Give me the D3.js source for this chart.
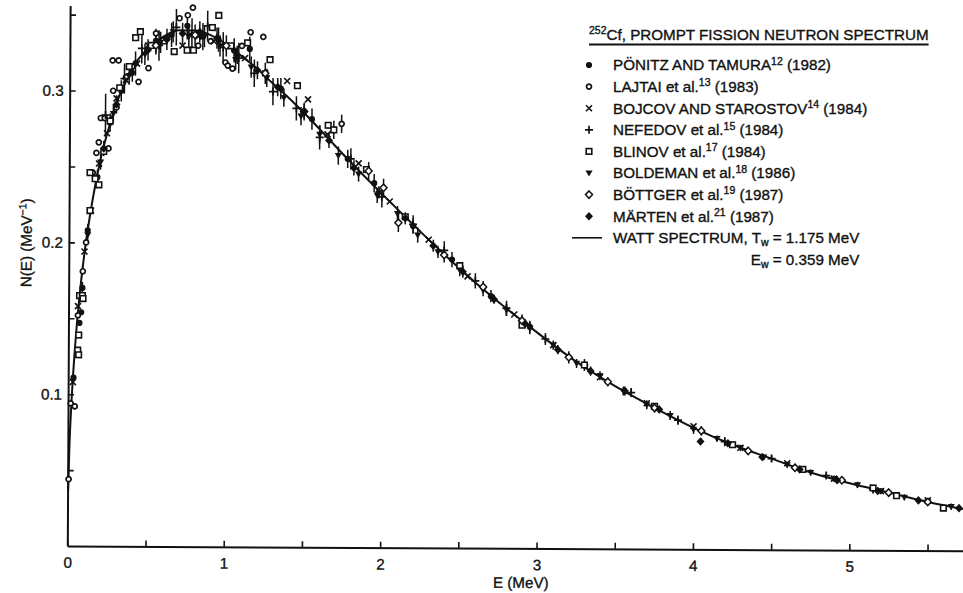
<!DOCTYPE html>
<html><head><meta charset="utf-8">
<script src="https://cdn.jsdelivr.net/npm/d3@7"></script>
<style>
body{margin:0;background:#fff}
svg{display:block}
text{font-family:"Liberation Sans",Arial,Helvetica,sans-serif;fill:#111;stroke:#111;stroke-width:0.35px}
</style>
</head><body>
<svg id="c" width="963" height="593"></svg>
<script>
// ---------- DATA ----------
const xTicks = [0,0.5,1,1.5,2,2.5,3,3.5,4,4.5,5,5.5];
const xTickLabels = ["0","","1","","2","","3","","4","","5",""];
const yTicks = [0.05,0.1,0.15,0.2,0.25,0.3,0.35];
const yTickLabels = ["","0.1","","0.2","","0.3",""];

// Watt spectrum curve (E in MeV, N in 1/MeV)
const wattE = [0.003,0.01,0.02,0.035,0.05,0.075,0.1,0.15,0.2,0.25,0.3,0.35,0.4,0.5,0.6,0.7,0.8,0.9,1.0,1.1,1.2,1.25,1.4,1.5,1.75,2.0,2.25,2.5,2.75,3.0,3.25,3.5,3.75,4.0,4.25,4.5,4.75,5.0,5.25,5.5,5.75];
const wattN = [0.036,0.065,0.091,0.119,0.141,0.170,0.193,0.228,0.255,0.275,0.292,0.304,0.315,0.328,0.336,0.340,0.340,0.337,0.331,0.323,0.315,0.310,0.296,0.286,0.259,0.233,0.208,0.184,0.162,0.142,0.123,0.107,0.093,0.080,0.069,0.060,0.051,0.044,0.038,0.032,0.027];

// series points: [E, N, error half-width]
const ponitz = [[0.034,0.111,0],[0.07,0.147,0],[0.081,0.154,0],[0.088,0.170,0.004],[0.12,0.208,0.004],[0.18,0.243,0.005],[0.26,0.279,0.006],[0.33,0.300,0.007],[0.42,0.318,0.008],[0.55,0.333,0.008],[0.65,0.337,0.008],[0.75,0.343,0.009],[0.85,0.336,0.009],[0.95,0.334,0.008],[1.05,0.327,0.008],[1.15,0.328,0.008],[1.35,0.302,0.007],[1.55,0.282,0.007],[1.78,0.256,0.006],[1.95,0.240,0.006],[2.2,0.212,0.005],[2.45,0.190,0.005],[2.7,0.166,0.004],[2.95,0.146,0.004]];
const lajtai = [[0.006,0.044,0],[0.017,0.094,0],[0.043,0.092,0],[0.06,0.152,0],[0.09,0.181,0],[0.11,0.200,0],[0.15,0.246,0],[0.173,0.259,0],[0.188,0.266,0],[0.2,0.282,0],[0.225,0.282,0],[0.25,0.262,0],[0.274,0.320,0],[0.278,0.300,0],[0.3,0.289,0],[0.312,0.320,0],[0.36,0.309,0],[0.4,0.316,0],[0.44,0.306,0],[0.503,0.315,0],[0.55,0.338,0],[0.62,0.335,0],[0.7,0.348,0],[0.753,0.350,0],[0.785,0.355,0],[0.82,0.330,0],[0.9,0.333,0],[0.995,0.319,0],[1.01,0.317,0],[1.04,0.315,0],[1.1,0.330,0],[1.155,0.339,0],[1.236,0.336,0],[1.74,0.279,0.006]];
const bojcov = [[0.03,0.108,0],[0.06,0.158,0],[0.1,0.194,0],[0.14,0.221,0],[0.19,0.252,0],[0.24,0.272,0],[0.3,0.295,0],[0.36,0.307,0],[0.43,0.318,0],[0.5,0.330,0],[0.6,0.333,0],[0.72,0.330,0],[0.82,0.336,0],[0.92,0.333,0],[1.02,0.330,0],[1.12,0.322,0],[1.25,0.312,0],[1.39,0.307,0],[1.524,0.295,0],[1.65,0.272,0],[1.85,0.253,0],[2.05,0.228,0],[2.3,0.203,0],[2.55,0.179,0],[2.85,0.154,0],[3.1,0.134,0],[3.4,0.113,0],[3.7,0.096,0],[4.0,0.081,0],[4.3,0.067,0],[4.6,0.057,0],[4.9,0.047,0],[5.2,0.039,0],[5.5,0.033,0]];
const nefedov = [[0.23,0.284,0.014],[0.35,0.308,0.01],[0.46,0.328,0.01],[0.57,0.330,0.01],[0.68,0.342,0.012],[0.78,0.338,0.01],[0.88,0.343,0.01],[0.98,0.329,0.01],[1.08,0.322,0.01],[1.18,0.312,0.009],[1.3,0.300,0.009],[1.45,0.289,0.008],[1.6,0.270,0.008],[1.8,0.256,0.007],[2.0,0.231,0.007],[2.2,0.213,0.006],[2.4,0.196,0.006],[2.6,0.176,0.005],[2.8,0.158,0.005],[3.05,0.138,0.004],[3.3,0.121,0.004],[3.6,0.103,0.003],[3.9,0.085,0.003],[4.2,0.071,0.003],[4.5,0.060,0.002],[4.85,0.049,0.002],[5.15,0.040,0.002]];
const blinov = [[0.06,0.129,0],[0.066,0.126,0],[0.066,0.139,0],[0.07,0.165,0],[0.088,0.165,0],[0.092,0.163,0],[0.134,0.221,0],[0.133,0.246,0],[0.166,0.242,0],[0.19,0.238,0],[0.22,0.260,0],[0.26,0.280,0],[0.32,0.302,0],[0.38,0.316,0],[0.42,0.335,0],[0.45,0.339,0],[0.52,0.330,0],[0.6,0.333,0],[0.667,0.326,0],[0.75,0.327,0],[0.79,0.327,0],[0.91,0.342,0],[0.951,0.350,0],[1.03,0.330,0],[1.136,0.332,0],[1.28,0.321,0],[1.456,0.304,0],[1.654,0.278,0],[1.69,0.275,0.006],[1.9,0.249,0],[2.15,0.218,0],[2.5,0.186,0],[2.9,0.147,0],[3.3,0.121,0],[3.75,0.094,0],[4.25,0.069,0],[4.7,0.053,0],[5.15,0.041,0],[5.3,0.036,0],[5.6,0.028,0]];
const boldeman = [[0.12,0.205,0.004],[0.2,0.253,0.005],[0.28,0.285,0.006],[0.38,0.310,0.006],[0.48,0.324,0.007],[0.58,0.332,0.007],[0.66,0.339,0.007],[0.76,0.336,0.007],[0.86,0.336,0.007],[0.96,0.330,0.007],[1.06,0.321,0.007],[1.16,0.316,0.007],[1.26,0.309,0.006],[1.37,0.296,0.006],[1.48,0.284,0.006],[1.6,0.272,0.006],[1.72,0.258,0.006],[1.85,0.246,0.005],[1.97,0.232,0.005],[2.1,0.220,0.005],[2.23,0.206,0.005],[2.36,0.195,0.004],[2.5,0.183,0.004],[2.65,0.170,0.004],[2.8,0.157,0.004],[2.95,0.145,0.004],[3.1,0.134,0.003],[3.25,0.122,0.003],[3.4,0.114,0.003],[3.55,0.104,0.003],[3.7,0.095,0.003],[3.85,0.088,0.003],[4.0,0.079,0.003],[4.15,0.073,0.002],[4.3,0.067,0.002],[4.45,0.061,0.002],[4.6,0.056,0.002],[4.75,0.051,0.002],[4.9,0.047,0.002],[5.05,0.043,0.002],[5.2,0.039,0.002],[5.35,0.035,0.002],[5.5,0.032,0.002],[5.65,0.029,0.002]];
const bottger = [[0.55,0.330,0.006],[0.8,0.337,0.007],[1.0,0.330,0.007],[1.25,0.312,0.007],[1.5,0.287,0.006],[1.914,0.248,0.006],[2.01,0.237,0.006],[2.106,0.214,0.006],[2.4,0.193,0.005],[2.65,0.172,0.004],[2.9,0.150,0.004],[3.2,0.126,0.004],[3.45,0.110,0.003],[3.75,0.093,0.003],[4.05,0.078,0.003],[4.35,0.065,0.002],[4.65,0.054,0.002],[4.95,0.046,0.002],[5.25,0.038,0.002],[5.5,0.032,0.002]];
const marten = [[0.22,0.262,0.005],[0.3,0.291,0.006],[0.4,0.312,0.006],[0.5,0.327,0.007],[0.62,0.334,0.007],[0.72,0.338,0.007],[0.83,0.339,0.007],[0.94,0.335,0.007],[1.07,0.324,0.006],[1.2,0.314,0.006],[1.33,0.303,0.006],[1.5,0.287,0.005],[1.66,0.268,0.005],[1.82,0.250,0.005],[1.98,0.234,0.004],[2.15,0.217,0.004],[2.33,0.199,0.004],[2.52,0.182,0.004],[2.72,0.164,0.003],[2.92,0.148,0.003],[3.13,0.131,0.003],[3.34,0.117,0.003],[3.56,0.104,0.003],[3.78,0.092,0.002],[4.045,0.071,0.002],[4.22,0.070,0.002],[4.44,0.061,0.002],[4.68,0.053,0.002],[4.92,0.046,0.002],[5.18,0.039,0.002],[5.44,0.033,0.002],[5.7,0.028,0.002]];

const legendNames = ["PÖNITZ AND TAMURA","LAJTAI et al.","BOJCOV AND STAROSTOV","NEFEDOV et al.","BLINOV et al.","BOLDEMAN et al.","BÖTTGER et al.","MÄRTEN et al."];
const legendRefs = ["12","13","14","15","17","18","19","21"];
const legendYears = ["(1982)","(1983)","(1984)","(1984)","(1984)","(1986)","(1987)","(1987)"];
const legendMarkers = ["dot","ring","x","plus","square","tri","diamondOpen","diamond"];
const seriesData = [ponitz,lajtai,bojcov,nefedov,blinov,boldeman,bottger,marten];

// ---------- CHART ----------
const svg = d3.select("#c");
const FS = 15.2, FSS = 10.5;
const x = d3.scaleLinear().domain([0,5.73]).range([67.3,963.5]);
const y = d3.scaleLinear().domain([0,0.356]).range([546,5.5]);

const g = svg.append("g").attr("transform","rotate(0.3,67,546)");

// axes
const xAxis = d3.axisBottom(x).tickValues(xTicks)
  .tickFormat((d,i)=>xTickLabels[i]).tickSize(-6).tickSizeOuter(0).tickPadding(11);
const gx = g.append("g").attr("transform","translate(0,546)").call(xAxis);
gx.select(".domain").attr("stroke","#111").attr("stroke-width",2);
gx.selectAll(".tick line").attr("stroke","#111").attr("stroke-width",1.6);
gx.selectAll(".tick text").attr("font-size",FS).attr("fill","#111");

const yAxis = d3.axisLeft(y).tickValues(yTicks)
  .tickFormat((d,i)=>yTickLabels[i]).tickSize(-6).tickSizeOuter(0).tickPadding(6);
const gy = g.append("g").attr("transform","translate(67.3,0)").call(yAxis);
gy.select(".domain").attr("stroke","#111").attr("stroke-width",2);
gy.selectAll(".tick line").attr("stroke","#111").attr("stroke-width",1.6);
gy.selectAll(".tick text").attr("font-size",FS).attr("fill","#111");
svg.selectAll("g.tick text, g[font-family]").attr("font-family",null);

// axis titles
g.append("text").attr("x",521).attr("y",585.5).attr("text-anchor","middle")
  .attr("font-size",FS).text("E (MeV)");
const yt = g.append("text").attr("transform","translate(30,243) rotate(-90)")
  .attr("text-anchor","middle").attr("font-size",FS);
yt.append("tspan").text("N(E) (MeV");
yt.append("tspan").attr("dy",-5.5).attr("font-size",FSS).text("−1");
yt.append("tspan").attr("dy",5.5).text(")");

// Watt curve
const line = d3.line().x((d,i)=>x(wattE[i])).y((d,i)=>y(wattN[i])).curve(d3.curveMonotoneX);
g.append("path").datum(wattE).attr("d",line).attr("fill","none")
  .attr("stroke","#111").attr("stroke-width",2);

// marker drawing
function drawMarker(sel, type){
  const k = "#111";
  switch(type){
    case "dot": sel.append("circle").attr("r",3.1).attr("fill",k); break;
    case "ring": sel.append("circle").attr("r",2.5).attr("fill","#fff").attr("stroke",k).attr("stroke-width",1.7); break;
    case "x": sel.append("path").attr("d","M-3,-3L3,3M-3,3L3,-3").attr("stroke",k).attr("stroke-width",1.6); break;
    case "plus": sel.append("path").attr("d","M-4,0H4M0,-4V4").attr("stroke",k).attr("stroke-width",1.7); break;
    case "square": sel.append("rect").attr("x",-2.8).attr("y",-2.8).attr("width",5.6).attr("height",5.6).attr("fill","#fff").attr("stroke",k).attr("stroke-width",1.6); break;
    case "tri": sel.append("path").attr("d","M-3.6,-2.6H3.6L0,3.6Z").attr("fill",k); break;
    case "diamondOpen": sel.append("path").attr("d","M0,-3.7L3.5,0L0,3.7L-3.5,0Z").attr("fill","#fff").attr("stroke",k).attr("stroke-width",1.5); break;
    case "diamond": sel.append("path").attr("d","M0,-4.3L4,0L0,4.3L-4,0Z").attr("fill",k); break;
  }
}

// error bars
seriesData.forEach((data)=>{
  g.append("g").selectAll("line").data(data.filter(d=>d[2]>0)).join("line")
    .attr("x1",d=>x(d[0])).attr("x2",d=>x(d[0]))
    .attr("y1",d=>y(d[1]-d[2])).attr("y2",d=>y(d[1]+d[2]))
    .attr("stroke","#111").attr("stroke-width",1.5);
});
// markers
seriesData.forEach((data,si)=>{
  g.append("g").selectAll("g").data(data).join("g")
    .attr("transform",d=>`translate(${x(d[0])},${y(d[1])})`)
    .each(function(){ drawMarker(d3.select(this), legendMarkers[si]); });
});

// ---------- LEGEND ----------
const lg = svg.append("g");
const tt = lg.append("text").attr("x",589).attr("y",39.5).attr("font-size",FS);
tt.append("tspan").attr("font-size",FSS).attr("dy",-5.5).text("252");
tt.append("tspan").attr("dy",5.5).text("Cf, PROMPT FISSION NEUTRON SPECTRUM");
const tw = tt.node().getComputedTextLength();
lg.append("line").attr("x1",589).attr("x2",589+tw).attr("y1",44.5).attr("y2",44.5)
  .attr("stroke","#111").attr("stroke-width",1.8);

legendNames.forEach((name,i)=>{
  const cy = 65 + 21.6*i;
  const m = lg.append("g").attr("transform",`translate(589,${cy})`);
  drawMarker(m, legendMarkers[i]);
  const t = lg.append("text").attr("x",613).attr("y",cy+5.3).attr("font-size",FS);
  t.append("tspan").text(name);
  t.append("tspan").attr("dy",-5.5).attr("font-size",FSS).text(legendRefs[i]);
  t.append("tspan").attr("dy",5.5).text(" " + legendYears[i]);
});
const wy = 65 + 21.6*8;
lg.append("line").attr("x1",572).attr("x2",602).attr("y1",wy).attr("y2",wy)
  .attr("stroke","#111").attr("stroke-width",1.6);
const w1 = lg.append("text").attr("x",613).attr("y",wy+5.3).attr("font-size",FS);
w1.append("tspan").text("WATT SPECTRUM, T");
w1.append("tspan").attr("dy",3).attr("font-size",FSS).text("w");
w1.append("tspan").attr("dy",-3).text(" = 1.175 MeV");
const w1len = w1.node().getComputedTextLength();
const w2 = lg.append("text").attr("x",613+w1len).attr("y",wy+21.6+5.3).attr("font-size",FS).attr("text-anchor","end");
w2.append("tspan").text("E");
w2.append("tspan").attr("dy",3).attr("font-size",FSS).text("w");
w2.append("tspan").attr("dy",-3).text(" = 0.359 MeV");
</script>
</body></html>
